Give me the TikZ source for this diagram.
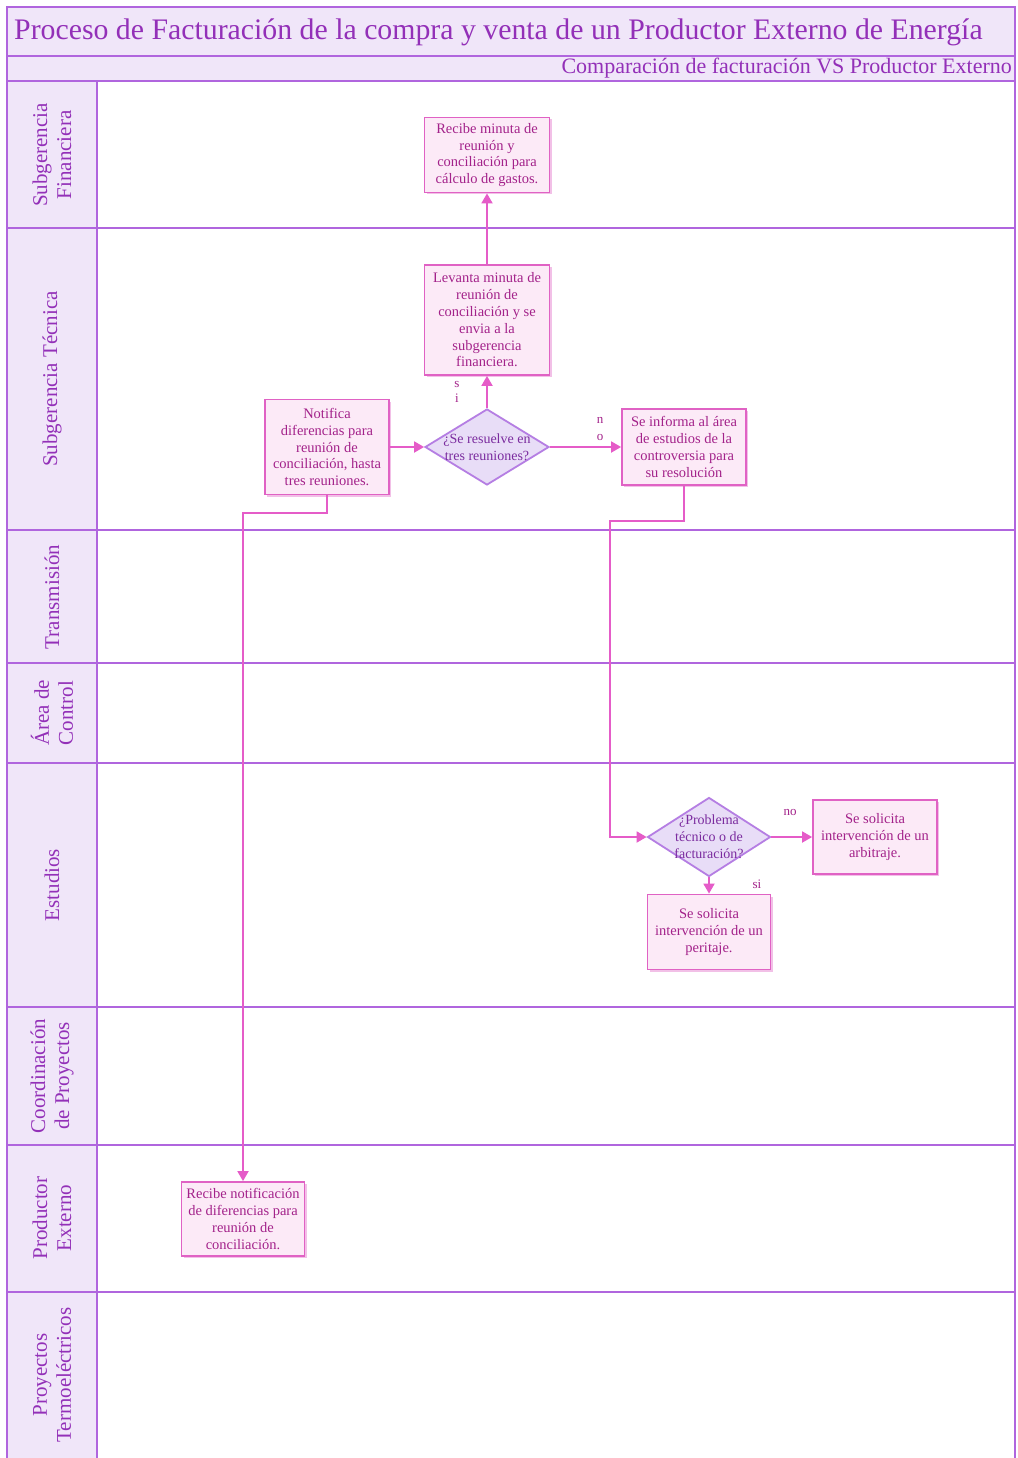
\documentclass[tikz,border=0pt]{standalone}
\usepackage{fontspec}
\setmainfont{Liberation Serif}
\usetikzlibrary{arrows.meta,shapes.geometric,shadows}

\definecolor{laneline}{HTML}{B065DE}
\definecolor{lanefill}{HTML}{F0E6F9}
\definecolor{headtext}{HTML}{9330B8}
\definecolor{boxdraw}{HTML}{E062C4}
\definecolor{boxfill}{HTML}{FCEAF7}
\definecolor{boxtext}{HTML}{A3228A}
\definecolor{diadraw}{HTML}{B57EE3}
\definecolor{diafill}{HTML}{E8DDF7}
\definecolor{diatext}{HTML}{7B2C9F}
\definecolor{arrowcol}{HTML}{E55CC8}

\begin{document}
\begin{tikzpicture}[x=1pt,y=-1pt,
  lanerule/.style={draw=laneline,line width=2pt},
  lanelabel/.style={rotate=90,align=center,text=headtext,
    font=\fontsize{21}{24}\selectfont},
  procbox/.style={draw=boxdraw,fill=boxfill,line width=1.8pt,
    text=boxtext,align=center,inner sep=2pt,
    font=\fontsize{14.5}{16.8}\selectfont,
    drop shadow={shadow xshift=2pt,shadow yshift=-2pt,fill=boxdraw,opacity=.4}},
  decision/.style={diamond,draw=diadraw,fill=diafill,line width=1.8pt,inner sep=0pt},
  dectext/.style={text=diatext,align=center,font=\fontsize{14}{16.8}\selectfont},
  arr/.style={draw=arrowcol,line width=1.8pt,-{Triangle[length=10pt,width=11pt]}},
  flowlabel/.style={text=boxtext,align=center,font=\fontsize{13}{15}\selectfont}]
\useasboundingbox (0,0) rectangle (1017,1458);
\fill[white] (0,0) rectangle (1017,1458);

% header bands and label column
\fill[lanefill] (7,7) rectangle (1015,56);
\fill[lanefill] (7,56) rectangle (1015,81);
\fill[lanefill] (7,81) rectangle (97,1458);

% pool frame and lane separators
\draw[lanerule] (7,1462) -- (7,7) -- (1015,7) -- (1015,1462);
\foreach \yy in {56,81,228,530,663,763,1007,1145,1292}
  \draw[lanerule] (7,\yy) -- (1015,\yy);
\draw[lanerule] (97,81) -- (97,1462);

% titles
\node[anchor=west,text=headtext,font=\fontsize{29.8}{34}\selectfont,inner sep=0pt] (title) at (14,32)
  {Proceso de Facturación de la compra y venta de un Productor Externo de Energía};
\node[anchor=east,text=headtext,font=\fontsize{22}{24}\selectfont,inner sep=0pt] (subtitle) at (1012,68)
  {Comparación de facturación VS Productor Externo};

% lane labels
\node[lanelabel] (lane1) at (52,155) {Subgerencia\\Financiera};
\node[lanelabel] (lane2) at (52,379) {Subgerencia Técnica};
\node[lanelabel] (lane3) at (52,597) {Transmisión};
\node[lanelabel] (lane4) at (52,713) {Área de\\Control};
\node[lanelabel] (lane5) at (52,885) {Estudios};
\node[lanelabel] (lane6) at (52,1076) {Coordinación\\de Proyectos};
\node[lanelabel] (lane7) at (52,1218) {Productor\\Externo};
\node[lanelabel] (lane8) at (52,1375) {Proyectos\\Termoeléctricos};

% activities
\node[procbox,minimum width=125pt,minimum height=75pt] (n1) at (487,155)
  {Recibe minuta de\\reunión y\\conciliación para\\cálculo de gastos.};
\node[procbox,minimum width=125pt,minimum height=110pt] (n2) at (487,320)
  {Levanta minuta de\\reunión de\\conciliación y se\\envia a la\\subgerencia\\financiera.};
\node[procbox,minimum width=124pt,minimum height=95pt] (n3) at (327,447)
  {Notifica\\diferencias para\\reunión de\\conciliación, hasta\\tres reuniones.};
\node[decision,minimum width=124pt,minimum height=76pt] (d1) at (487,447) {};
\node[dectext] (d1t) at (d1.center) {¿Se resuelve en\\tres reuniones?};
\node[procbox,minimum width=124pt,minimum height=76pt] (n4) at (684,447)
  {Se informa al área\\de estudios de la\\controversia para\\su resolución};
\node[decision,minimum width=123pt,minimum height=79pt] (d2) at (709,837) {};
\node[dectext] (d2t) at (d2.center) {¿Problema\\técnico o de\\facturación?};
\node[procbox,minimum width=124pt,minimum height=74pt] (n5) at (875,837)
  {Se solicita\\intervención de un\\arbitraje.};
\node[procbox,minimum width=123pt,minimum height=75pt] (n6) at (709,932)
  {Se solicita\\intervención de un\\peritaje.};
\node[procbox,minimum width=123pt,minimum height=74pt] (n7) at (243,1219)
  {Recibe notificación\\de diferencias para\\reunión de\\conciliación.};

% bend points
\coordinate (j1) at (610,521);
\coordinate (j2) at (243,513);

% connectors
\draw[arr] (n3.east) -- (d1.west);
\draw[arr] (d1.north) -- (n2.south);
\draw[arr] (n2.north) -- (n1.south);
\draw[arr] (d1.east) -- (n4.west);
\draw[arr] (n4.south) |- (j1) |- (d2.west);
\draw[arr] (n3.south) |- (j2) -- (n7.north);
\draw[arr] (d2.east) -- (n5.west);
\draw[arr] (d2.south) -- (n6.north);

% branch labels
\node[flowlabel,font=\fontsize{13}{15}\selectfont] (si1) at (457,392) {s\\i};
\node[flowlabel,font=\fontsize{13}{17}\selectfont] (no1) at (600,429) {n\\o};
\node[flowlabel] (no2) at (790,812) {no};
\node[flowlabel] (si2) at (757,884) {si};
\end{tikzpicture}
\end{document}
